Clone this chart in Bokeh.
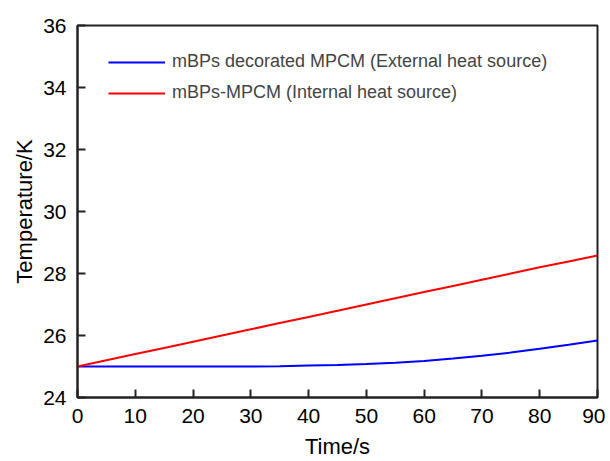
from bokeh.plotting import figure
from bokeh.models import Range1d, Legend, LegendItem, FixedTicker
from bokeh.embed import file_html
from bokeh.resources import INLINE

time_s = [0, 5, 10, 15, 20, 25, 30, 35, 40, 45, 50, 55, 60, 65, 70, 75, 80, 85, 90]
external = [25.0, 25.0, 25.0, 25.0, 25.0, 25.0, 25.0, 25.01, 25.03, 25.05, 25.08, 25.12,
            25.18, 25.26, 25.35, 25.45, 25.57, 25.70, 25.84]
internal = [25.0, 25.2, 25.4, 25.6, 25.8, 26.0, 26.2, 26.4, 26.6, 26.8, 27.0, 27.2,
            27.4, 27.6, 27.8, 28.0, 28.2, 28.39, 28.58]
x_ticks = [0, 10, 20, 30, 40, 50, 60, 70, 80, 90]
y_ticks = [24, 26, 28, 30, 32, 34, 36]
labels = ["mBPs decorated MPCM (External heat source)", "mBPs-MPCM (Internal heat source)"]

FONT = "Liberation Sans"

p = figure(frame_width=520, frame_height=372, output_backend="svg", toolbar_location=None,
           x_range=Range1d(0, 90), y_range=Range1d(24, 36),
           min_border_left=77, min_border_right=8, min_border_top=25, min_border_bottom=64)

r1 = p.line(time_s, external, line_color="#0000FF", line_width=2)
r2 = p.line(time_s, internal, line_color="#FF0000", line_width=2)

p.xgrid.visible = False
p.ygrid.visible = False
p.outline_line_color = "#222222"
p.outline_line_width = 2
p.background_fill_color = "white"
p.border_fill_color = "white"

for ax in (p.xaxis[0], p.yaxis[0]):
    ax.axis_line_width = 2
    ax.axis_line_color = "#222222"
    ax.major_tick_in = 8
    ax.major_tick_out = 0
    ax.major_tick_line_width = 2
    ax.major_tick_line_color = "#222222"
    ax.minor_tick_line_color = None
    ax.major_label_text_font = FONT
    ax.major_label_text_font_size = "21px"
    ax.major_label_text_color = "black"
    ax.axis_label_text_font = FONT
    ax.axis_label_text_font_size = "22px"
    ax.axis_label_text_font_style = "normal"
    ax.axis_label_text_color = "black"

p.xaxis[0].ticker = FixedTicker(ticks=x_ticks)
p.yaxis[0].ticker = FixedTicker(ticks=y_ticks)
p.xaxis[0].axis_label = "Time/s"
p.yaxis[0].axis_label = "Temperature/K"
p.xaxis[0].major_label_standoff = 11
p.yaxis[0].major_label_standoff = 11
p.xaxis[0].axis_label_standoff = 8
p.yaxis[0].axis_label_standoff = 3

legend = Legend(items=[LegendItem(label=labels[0], renderers=[r1]),
                       LegendItem(label=labels[1], renderers=[r2])],
                location=(31, 294), margin=0, padding=0, spacing=10,
                glyph_width=57, glyph_height=20, label_standoff=7,
                label_text_font=FONT, label_text_font_size="18px",
                border_line_alpha=0, background_fill_alpha=0)
p.add_layout(legend, "center")

open("out.html", "w").write(file_html(p, INLINE))
